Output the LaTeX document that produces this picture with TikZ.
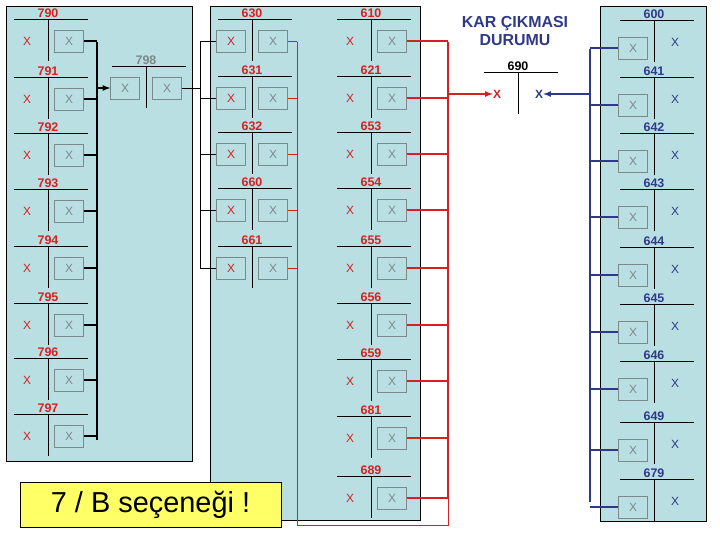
\documentclass[tikz,border=0pt]{standalone}
\usepackage{fontspec}
\setmainfont{Liberation Sans}
\definecolor{panel}{HTML}{BADFE3}
\definecolor{kred}{HTML}{D42222}
\definecolor{navy}{HTML}{2E3A87}
\definecolor{boxgray}{HTML}{7A8A8A}
\definecolor{notey}{HTML}{FFFF66}
% one bay: name, x of the post, y of the label, label, label colour, left style, right style
\newcommand\bayunit[7]{%
  \node[lbl,text=#5] (n#1t) at (#2,#3) {#4};
  \draw[rail] (#2-34,#3+6) -- (#2+40,#3+6);
  \draw[rail] (#2,#3+6) -- (#2,#3+48);
  \node[#6] (n#1l) at (#2-21,#3+28) {X};
  \node[#7] (n#1r) at (#2+21,#3+28) {X};
}
\begin{document}
\begin{tikzpicture}
     [x=1bp,y=-1bp,
     pane/.style={draw=black, fill=panel, thin},
     lbl/.style={font=\bfseries\fontsize{12.5}{12.5}\selectfont, inner sep=0pt},
     rail/.style={draw=black, thin},
     bx/.style={draw=boxgray, fill=panel, text=boxgray, minimum width=29bp, minimum height=22bp, inner sep=0pt, font=\fontsize{12}{12}\selectfont},
     rbx/.style={bx, text=kred},
     lowbx/.style={bx, yshift=-6pt},
     px/.style={inner sep=0pt, font=\fontsize{12}{12}\selectfont},
     pxred/.style={px, text=kred},
     pxnavy/.style={px, text=navy},
     pxredb/.style={pxred, font=\bfseries\fontsize{12}{12}\selectfont},
     pxnavyb/.style={pxnavy, font=\bfseries\fontsize{12}{12}\selectfont},
     blackbus/.style={draw=black, line width=1.6pt},
     redbus/.style={draw=kred, line width=1.6pt},
     redwire/.style={draw=kred, line width=0.8pt},
     navybus/.style={draw=navy, line width=1.6pt},
     ]
 \useasboundingbox (0,0) rectangle (720,540);
 \draw[pane] (6,6) rectangle (192,461);
 \draw[pane] (210,6) rectangle (420,520);
 \draw[pane] (600,6) rectangle (706,521);
 \node[font=\bfseries\fontsize{16}{19}\selectfont, text=navy, align=center] (title) at (515,31) {KAR ÇIKMASI\\DURUMU};
 % left panel
 \foreach \nm/\yy in {790/13,791/71,792/127,793/183,794/240,795/297,796/352,797/408}
   {\bayunit{\nm}{48}{\yy}{\nm}{kred}{pxred}{bx}}
 \bayunit{798}{146}{60}{798}{boxgray}{bx}{bx}
 % middle panel
 \foreach \nm/\yy in {630/13,631/70,632/126,660/182,661/240}
   {\bayunit{\nm}{252}{\yy}{\nm}{kred}{rbx}{bx}}
 \foreach \nm/\yy in {610/13,621/70,653/126,654/182,655/240,656/297,659/353,681/410,689/470}
   {\bayunit{\nm}{371}{\yy}{\nm}{kred}{pxred}{bx}}
 % right panel
 \foreach \nm/\yy in {600/14,641/71,642/127,643/183,644/241,645/298,646/355,649/416,679/473}
   {\bayunit{\nm}{654}{\yy}{\nm}{navy}{lowbx}{pxnavy}}
 \bayunit{690}{518}{66}{690}{black}{pxredb}{pxnavyb}
 % buses
 \path (97,42) coordinate (kt) (97,440) coordinate (kb);
 \draw[blackbus] (kt) -- (kb);
 \foreach \nm in {790,791,792,793,794,795,796,797}
   {\draw[blackbus] (n\nm r.east) -- (n\nm r.east -| kt);}
 \draw[blackbus,-latex] (n798l.west -| kt) -- (n798l.west);
 \path (200,42) coordinate (gt) (200,268) coordinate (gb);
 \draw (gt) -- (gb);
 \draw (n798r.east) -- (n798r.east -| gt);
 \foreach \nm in {630,631,632,660,661}
   {\draw (n\nm l.west -| gt) -- (n\nm l.west);}
 \path (297,42) coordinate (rt) (297,525) coordinate (rb)
       (448,42) coordinate (Rt) (448,497) coordinate (Rb);
 \draw[redwire] (rt) -- (rb) -| (Rb);
 \foreach \nm in {630,631,632,660,661}
   {\draw[redwire] (n\nm r.east) -- (n\nm r.east -| rt);}
 \draw[redbus] (Rt) -- (Rb);
 \foreach \nm in {610,621,653,654,655,656,659,681,689}
   {\draw[redbus] (n\nm r.east) -- (n\nm r.east -| Rt);}
 \draw[redbus,-latex] (n690l.west -| Rt) -- (n690l.west);
 \path (590,49) coordinate (nt) (590,502) coordinate (nb);
 \draw[navybus] (nt) -- (nb);
 \foreach \nm in {600,641,642,643,644,645,646,649,679}
   {\draw[navybus] (n\nm l.west -| nt) -- (n\nm l.west);}
 \draw[navybus,-latex] (n690r.east -| nt) -- (n690r.east);
 \node[draw=black, fill=notey, minimum width=261bp, minimum height=45bp, font=\fontsize{29}{29}\selectfont] (opt) at (150.5,504.5) {7 / B seçeneği !};
\end{tikzpicture}
\end{document}
